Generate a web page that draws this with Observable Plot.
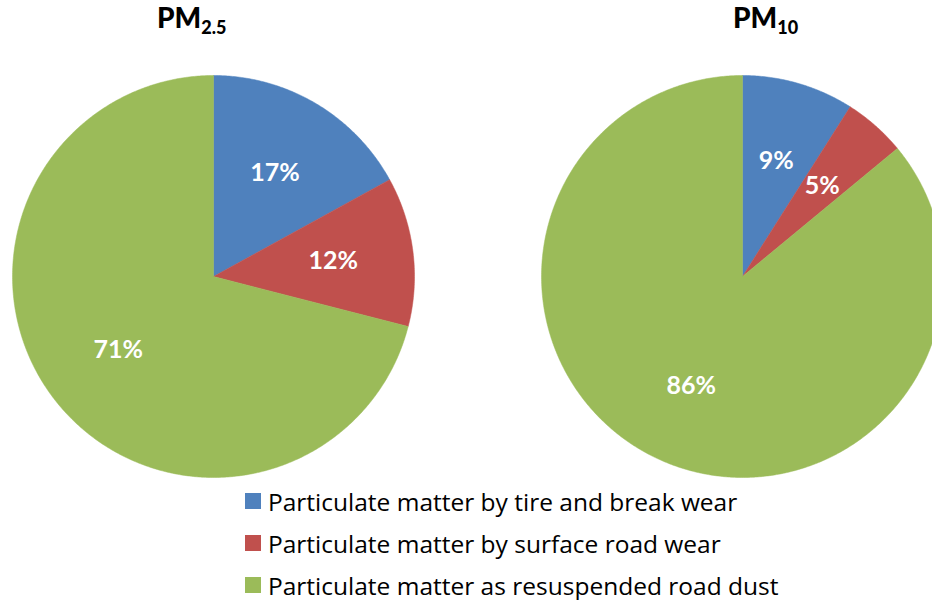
<!DOCTYPE html>
<html><head><meta charset="utf-8">
<script src="https://cdn.jsdelivr.net/npm/d3@7"></script>
<script src="https://cdn.jsdelivr.net/npm/@observablehq/plot@0.6"></script>
<style>
body{margin:0;background:#fff;font-family:Lato,"Open Sans",sans-serif;color:#000}
#wrap{position:relative;width:932px;height:600px;overflow:hidden}
#titles{position:relative;height:60px}
.title{position:absolute;top:2px;font-weight:900;font-size:28px;line-height:30px;white-space:nowrap}
.title sub{font-size:18px;vertical-align:-6px;line-height:0}
#legend{position:absolute;left:245px;top:480px;font-family:"Open Sans",Lato,sans-serif}
.row{display:flex;align-items:center;height:42px;font-size:24.5px;white-space:nowrap}
.sw{width:16px;height:16px;margin-right:7px;flex:none}
</style></head><body>
<div id="wrap">
  <div id="titles"></div>
  <div id="chart"></div>
  <div id="legend"></div>
</div>
<script>
// ---- data ----
const categories = [
  "Particulate matter by tire and break wear",
  "Particulate matter by surface road wear",
  "Particulate matter as resuspended road dust"
];
const pollutantNames = ["PM", "PM"];
const pollutantSubs = ["2.5", "10"];
const pm25Values = [17, 12, 71];
const pm10Values = [9, 5, 86];
const colors = ["#4F81BD", "#C0504D", "#9BBB59"];

// ---- layout ----
const W = 932, H = 425;
const R = 201;                 // pixels per unit radius
const cyPx = 216;              // pie centre within svg
const centersPx = [213, 742];  // pie centres (page x)
const xDomain = [-centersPx[0] / R, (W - centersPx[0]) / R];
const yDomain = [-(H - cyPx) / R, cyPx / R];
const pieCx = centersPx.map(c => (c - centersPx[0]) / R);
const titleLeft = [157, 733];
const labelFrac = 0.6;

const series = [pm25Values, pm10Values];
const points = [];
const labels = [];
series.forEach((vals, p) => {
  const total = d3.sum(vals);
  let cum = 0;
  vals.forEach((v, i) => {
    const a0 = cum / total * 2 * Math.PI;
    const a1 = (cum + v) / total * 2 * Math.PI;
    const key = p + "-" + i;
    points.push({key, cat: categories[i], x: pieCx[p], y: 0});
    const n = Math.max(2, Math.ceil((a1 - a0) / (Math.PI / 360)));
    for (let k = 0; k <= n; k++) {
      const a = a0 + (a1 - a0) * k / n;
      points.push({key, cat: categories[i], x: pieCx[p] + Math.sin(a), y: Math.cos(a)});
    }
    points.push({key, cat: categories[i], x: pieCx[p], y: 0});
    const am = (a0 + a1) / 2;
    labels.push({x: pieCx[p] + labelFrac * Math.sin(am), y: labelFrac * Math.cos(am), text: v + "%"});
    cum += v;
  });
});

const chart = Plot.plot({
  width: W, height: H, margin: 0,
  style: {fontFamily: "Lato, 'Open Sans', sans-serif", background: "#fff"},
  x: {domain: xDomain, axis: null},
  y: {domain: yDomain, axis: null},
  color: {domain: categories, range: colors},
  marks: [
    Plot.line(points, {x: "x", y: "y", z: "key", fill: "cat", stroke: "cat", strokeWidth: 0.5, curve: "linear"}),
    Plot.text(labels, {x: "x", y: "y", text: "text", fill: "white", fontSize: 25, fontWeight: "bold"})
  ]
});
document.getElementById("chart").appendChild(chart);

const titles = document.getElementById("titles");
pollutantNames.forEach((n, i) => {
  const d = document.createElement("div");
  d.className = "title";
  d.style.left = titleLeft[i] + "px";
  d.innerHTML = n + "<sub>" + pollutantSubs[i] + "</sub>";
  titles.appendChild(d);
});

const legend = document.getElementById("legend");
categories.forEach((c, i) => {
  const row = document.createElement("div");
  row.className = "row";
  row.innerHTML = `<span class="sw" style="background:${colors[i]}"></span><span>${c}</span>`;
  legend.appendChild(row);
});
</script>
</body></html>
